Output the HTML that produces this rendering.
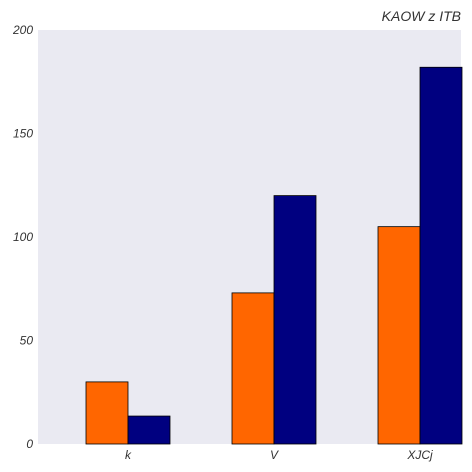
<!DOCTYPE html>
<html><head><style>
html,body{margin:0;background:#fff;width:472px;height:472px;overflow:hidden;}
svg{display:block;}
svg text{font-family:"Liberation Sans",sans-serif;font-style:italic;fill:#333;}
</style></head><body>
<svg id="chart" width="472" height="472">
<text x="461" y="21" text-anchor="end" font-size="14">KAOW z  ITB</text>
<rect x="38" y="30" width="423" height="414" fill="#eaeaf2"/>
<g id="yticks"></g><g id="bars"></g><g id="xticks"></g>
</svg>
<script>
const categories=["k","V","XJCj"];
const seriesA=[30,73,105];
const seriesB=[13.5,120,182];
const yTicks=[0,50,100,150,200];
const ns="http://www.w3.org/2000/svg";
const x0=38,x1=461,yTop=30,yBot=444,yMax=200;
const y=v=>yBot-(v/yMax)*(yBot-yTop);
const step=146, first=128;
const cx=i=>first+i*step;
const bw=42;
const yt=document.getElementById('yticks');
yTicks.forEach(t=>{
 const tx=document.createElementNS(ns,'text');
 tx.setAttribute('x',33);tx.setAttribute('y',y(t)+4);tx.setAttribute('text-anchor','end');tx.setAttribute('font-size','12');
 tx.textContent=t;
 
 
 yt.appendChild(tx);
});
const bg=document.getElementById('bars');
const xt=document.getElementById('xticks');
categories.forEach((c,i)=>{
 [[seriesA,'#ff6600',-bw],[seriesB,'#000080',0]].forEach(([s,col,off],k)=>{
  const r=document.createElementNS(ns,'rect');
  r.setAttribute('x',cx(i)+off);r.setAttribute('y',y(s[i]));
  r.setAttribute('width',bw);r.setAttribute('height',yBot-y(s[i]));
  r.setAttribute('fill',col);r.setAttribute('stroke','#000');r.setAttribute('stroke-width','0.8');
  
  
  bg.appendChild(r);
 });
 const tx=document.createElementNS(ns,'text');
 tx.setAttribute('x',cx(i));tx.setAttribute('y',459);tx.setAttribute('text-anchor','middle');tx.setAttribute('font-size','12');
 tx.textContent=c;
 
 
 xt.appendChild(tx);
});
</script>
</body></html>
